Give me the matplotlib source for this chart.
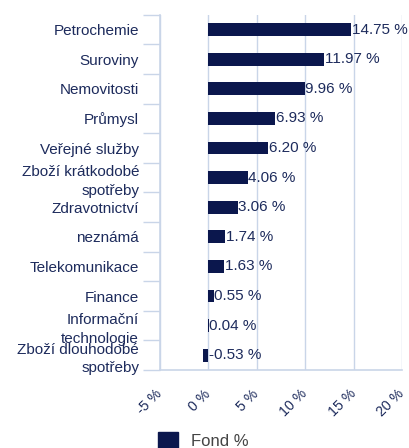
import numpy as np
import matplotlib.pyplot as plt
from matplotlib.patches import Patch
from matplotlib.transforms import ScaledTranslation

# data
categories = ['Petrochemie', 'Suroviny', 'Nemovitosti', 'Průmysl', 'Veřejné služby',
              'Zboží krátkodobé\nspotřeby', 'Zdravotnictví', 'neznámá', 'Telekomunikace',
              'Finance', 'Informační\ntechnologie', 'Zboží dlouhodobé\nspotřeby']
values = [14.75, 11.97, 9.96, 6.93, 6.20, 4.06, 3.06, 1.74, 1.63, 0.55, 0.04, -0.53]
xticks = [-5, 0, 5, 10, 15, 20]
series_name = 'Fond %'

navy = '#0b174d'
text_col = '#1d2b5c'
grid_col = '#c9d5e8'

plt.rcParams['font.family'] = ['Liberation Sans', 'DejaVu Sans']

fig = plt.figure(figsize=(4.09, 4.48), dpi=100)
ax = fig.add_axes([0.391, 0.174, 0.592, 0.793])

n = len(categories)
ypos = np.arange(n)
ax.barh(ypos, values, height=0.43, color=navy, zorder=3)

for y, v in zip(ypos, values):
    ax.text(max(v, 0) + 0.05, y, f'{v:.2f} %', va='center', ha='left',
            fontsize=11, color=text_col, zorder=4)

ax.set_ylim(n - 0.5, -0.5)
ax.set_xlim(-5, 20)
ax.set_yticks(ypos)
ax.set_yticklabels(categories, fontsize=11, color=text_col, linespacing=1.4)
ax.set_yticks(np.arange(n + 1) - 0.5, minor=True)
ax.tick_params(axis='y', which='major', length=0, pad=15)
ax.tick_params(axis='y', which='minor', length=12, color=grid_col, width=1)

ax.set_xticks(xticks)
ax.set_xticklabels([f'{t} %' for t in xticks], rotation=45, ha='right',
                   rotation_mode='anchor', fontsize=10.2, color=text_col)
ax.tick_params(axis='x', length=0, pad=12)
# nudge rotated labels a bit to the left
shift = ScaledTranslation(-5 / 100, 0, fig.dpi_scale_trans)
for lab in ax.get_xticklabels():
    lab.set_transform(lab.get_transform() + shift)
ax.grid(axis='x', color=grid_col, linewidth=1, zorder=0)

for s in ['top', 'right']:
    ax.spines[s].set_visible(False)
for s in ['left', 'bottom']:
    ax.spines[s].set_color(grid_col)
    ax.spines[s].set_linewidth(1.2)

fig.legend(handles=[Patch(color=navy, label=series_name)], loc='lower left',
           bbox_to_anchor=(0.35, -0.035), frameon=False, fontsize=12,
           handlelength=1.2, handleheight=1.1, labelcolor='#444444')

fig.savefig('out.png', dpi=100)
